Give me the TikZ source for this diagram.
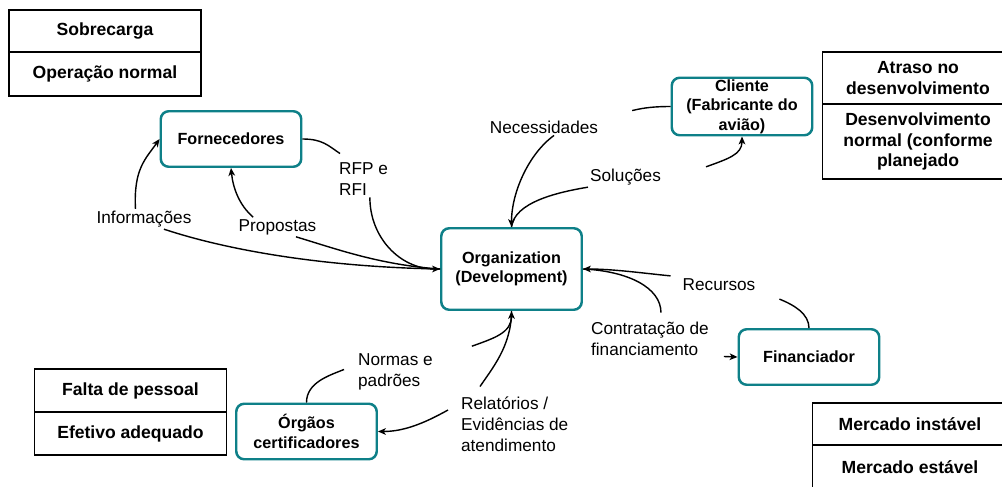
\documentclass[tikz,border=0pt]{standalone}
\usepackage{fontspec}
\setmainfont{Liberation Sans}
\usetikzlibrary{arrows.meta, calc, positioning}
\definecolor{tl}{HTML}{0E8088}
\newcommand{\actorfont}{\fontsize{9.2}{11}\selectfont\bfseries}
\newcommand{\legendfont}{\fontsize{10}{11.9}\selectfont\bfseries}
\newcommand{\flowfont}{\fontsize{9.8}{11.9}\selectfont}

\begin{document}
\begin{tikzpicture}[x=0.02cm, y=-0.02cm,
	actor/.style={draw=tl, line width=1.4pt, rounded corners=4.5pt, minimum width=2.81cm, minimum height=1.11cm, align=center, font=\actorfont, inner sep=0pt},
	legcell/.style={draw, line width=0.85pt, align=center, font=\legendfont, inner sep=0pt},
	flow/.style={font=\flowfont, inner sep=1pt},
	link/.style={line width=0.8pt},
	>={Stealth[length=4.5pt, width=3.8pt, inset=1.2pt]}]
	\useasboundingbox (0,0) rectangle (1002,487);

	% legendas
	\node[legcell, minimum width=3.85cm, minimum height=0.84cm] (sobre) at (105,31) {Sobrecarga};
	\node[legcell, minimum width=3.85cm, minimum height=0.88cm] (opnormal) at (105,74) {Operação normal};
	\node[legcell, minimum width=3.82cm, minimum height=1.04cm] (atraso) at (918,78) {Atraso no\\desenvolvimento};
	\node[legcell, minimum width=3.82cm, minimum height=1.5cm] (desnormal) at (918,141.5) {Desenvolvimento\\normal (conforme\\planejado};
	\node[legcell, minimum width=3.84cm, minimum height=0.86cm] (falta) at (130.5,390.5) {Falta de pessoal};
	\node[legcell, minimum width=3.84cm, minimum height=0.86cm] (efetivo) at (130.5,433.5) {Efetivo adequado};
	\node[legcell, minimum width=3.9cm, minimum height=0.84cm] (instavel) at (910,424) {Mercado instável};
	\node[legcell, minimum width=3.9cm, minimum height=0.88cm] (estavel) at (910,467) {Mercado estável};

	% atores
	\node[actor] (forn) at (231,139) {Fornecedores};
	\node[actor, minimum height=1.15cm] (cliente) at (742,106.5) {Cliente\\(Fabricante do\\avião)};
	\node[actor, minimum height=1.63cm] (org) at (511.5,269) {Organization\\(Development)};
	\node[actor] (fin) at (809,357) {Financiador};
	\node[actor] (orgaos) at (306.5,431.5) {Órgãos\\certificadores};

	% rotulos
	\node[flow] (lInfo) at (144,219) {Informações};
	\node[flow] (lProp) at (277.5,227) {Propostas};
	\node[flow, align=left, anchor=west] (lRfp) at (337,179) {RFP e\\RFI};
	\node[flow] (lNec) at (544,127) {Necessidades};
	\node[flow] (lSol) at (625.5,177) {Soluções};
	\node[flow] (lRec) at (719,285) {Recursos};
	\node[flow, align=left, anchor=west] (lCon) at (589,338.5) {Contratação de\\financiamento};
	\node[flow, align=left, anchor=west] (lNor) at (356,371.5) {Normas e\\padrões};
	\node[flow, align=left, anchor=west] (lRel) at (459,424) {Relatórios /\\Evidências de\\atendimento};

	% fluxos
	\draw[link] (org.west) .. controls +(-120,-2) and +(60,20) .. (lInfo.-27);
	\draw[link, ->] (lInfo.130) .. controls +(-2,-40) and +(-14,20) .. (forn.west);

	\draw[link] (org.west) .. controls +(-60,-4) and +(40,12) .. (lProp.-28);
	\draw[link, ->] (lProp.158) .. controls +(-14,-12) and +(2,20) .. (forn.south);

	\draw[link] (forn.east) .. controls +(20,0) and +(-12,-8) .. ($(lRfp.north west)+(3,-7)$);
	\draw[link, ->] (lRfp.-71) .. controls +(0,40) and +(-40,0) .. (org.west);

	\draw[link] (cliente.west) .. controls +(-15,0) and +(12,-3) .. ($(lNec.north east)+(32,-8)$);
	\draw[link, ->] (lNec.-40) .. controls +(-25,18) and +(0,-35) .. (org.north);

	\draw[link] (org.north) .. controls +(3,-25) and +(-30,5) .. (lSol.south west);
	\draw[link, ->] ($(lSol.north east)+(43,0)$) .. controls +(22,-8) and +(0,18) .. (cliente.south);

	\draw[link] (fin.north) .. controls +(0,-14) and +(15,6) .. ($(lRec.south east)+(22,6)$);
	\draw[link, ->] ($(lRec.north west)+(-10,-1)$) .. controls +(-30,-3) and +(30,0) .. (org.east);

	\draw[link] (org.east) .. controls +(45,2) and +(0,-25) .. ($(lCon.north)+(11,-7)$);
	\draw[link, ->] ($(lCon.east)+(13,18)$) -- (fin.west);

	\draw[link] (orgaos.north) .. controls +(0,-20) and +(-15,6) .. ($(lNor.west)+(-12,-2)$);
	\draw[link, ->] ($(lNor.north east)+(37,-5)$) .. controls +(22,-8) and +(0,22) .. (org.south);

	\draw[link] (org.south) .. controls +(0,35) and +(12,-18) .. ($(lRel.north west)+(21,-8)$);
	\draw[link, ->] ($(lRel.west)+(-11,-14)$) .. controls +(-25,14) and +(25,0) .. (orgaos.east);
\end{tikzpicture}
\end{document}
